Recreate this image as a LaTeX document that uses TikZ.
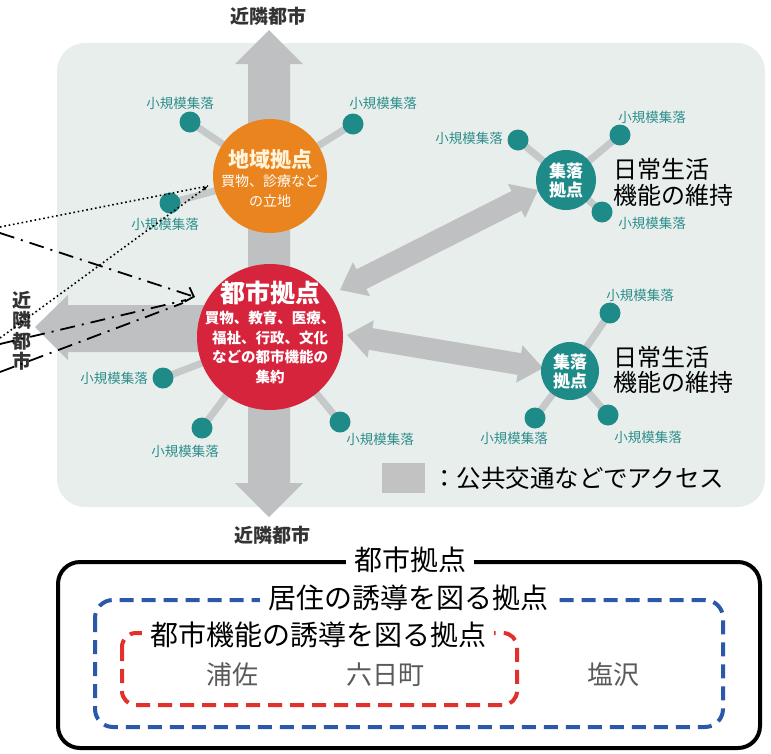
\documentclass[tikz,border=0pt]{standalone}
\usepackage{fontspec}
\setmainfont{Noto Sans CJK JP}
\usetikzlibrary{calc,arrows.meta}
\pgfdeclarelayer{bglayer}
\pgfdeclarelayer{midlayer}
\pgfsetlayers{bglayer,midlayer,main}
\definecolor{bgc}{HTML}{E8EEEC}
\definecolor{arrowc}{HTML}{BFC0C2}
\definecolor{spokec}{HTML}{C6C9CA}
\definecolor{tealc}{HTML}{1E8B88}
\definecolor{tealtext}{HTML}{2F8F8C}
\definecolor{orangec}{HTML}{EA841F}
\definecolor{redc}{HTML}{D6243C}
\definecolor{legendc}{HTML}{C2C2C2}
\definecolor{bluec}{HTML}{2B58A8}
\definecolor{reddc}{HTML}{E2302D}
\definecolor{namec}{HTML}{5A5A5A}
\definecolor{cityc}{HTML}{333333}
\definecolor{creamc}{HTML}{FFF4DC}
\newcommand\blockdbl[5]{%
 \fill[arrowc] (#1) -- ($(#1)!#3!(#2)!#5!90:(#2)$) -- ($(#1)!#3!(#2)!#4!90:(#2)$)
  -- ($(#2)!#3!(#1)!#4!-90:(#1)$) -- ($(#2)!#3!(#1)!#5!-90:(#1)$) -- (#2)
  -- ($(#2)!#3!(#1)!#5!90:(#1)$) -- ($(#2)!#3!(#1)!#4!90:(#1)$)
  -- ($(#1)!#3!(#2)!#4!-90:(#2)$) -- ($(#1)!#3!(#2)!#5!-90:(#2)$) -- cycle;}
\begin{document}
\begin{tikzpicture}[x=1pt,y=-1pt,
  every node/.style={inner sep=0pt},
  dot/.style={circle, fill=tealc, minimum size=21pt},
  spoke/.style={draw=spokec, line width=7pt},
  satlabel/.style={text=tealtext, font=\fontsize{13.5}{14}\selectfont},
  citylabel/.style={text=cityc, font=\fontsize{19}{20}\selectfont\bfseries},
  daily/.style={anchor=west, align=left, font=\fontsize{24}{25.5}\selectfont},
  hubtitle/.style={text=white, font=\fontsize{17}{20}\selectfont\bfseries, align=center},
  boxtitle/.style={fill=white, inner xsep=8pt, inner ysep=3pt, font=\fontsize{28}{30}\selectfont},
  placename/.style={text=namec, font=\fontsize{26}{28}\selectfont},
  dotline/.style={line width=1.6pt, dash pattern=on 1.6pt off 2.8pt},
  dashdotline/.style={line width=1.8pt, dash pattern=on 15pt off 7pt on 2pt off 7pt}]
\useasboundingbox (0,0) rectangle (771,753);

% ---------- background and access arrows ----------
\begin{pgfonlayer}{bglayer}
\fill[bgc, rounded corners=28pt] (57,43) rectangle (765,507);
\coordinate (vt) at (269,30);
\coordinate (vb) at (269,517);
\blockdbl{vt}{vb}{34pt}{21pt}{34pt}
\coordinate (lt) at (35,327);
\fill[arrowc] (lt) -- (68,295) -- (68,305) -- (269,305) -- (269,352) -- (68,352) -- (68,360) -- cycle;
\coordinate (d1a) at (340,290);
\coordinate (d1b) at (538,190);
\blockdbl{d1a}{d1b}{24pt}{11pt}{19pt}
\coordinate (d2a) at (347,335);
\coordinate (d2b) at (543,368);
\blockdbl{d2a}{d2b}{24pt}{11pt}{19pt}
\end{pgfonlayer}

% ---------- hubs ----------
\node[circle, fill=orangec, minimum size=114pt] (O) at (270,176) {};
\node[circle, fill=redc, minimum size=146pt] (R) at (270,337) {};
\node[circle, fill=tealc, minimum size=60pt] (S1) at (566,180) {};
\node[circle, fill=tealc, minimum size=58pt] (S2) at (570,371) {};

% ---------- small settlements ----------
\node[dot] (o1) at (190,122) {};
\node[dot] (o2) at (353,124) {};
\node[dot] (o3) at (170,203) {};
\node[dot] (r1) at (163,378) {};
\node[dot] (r2) at (202,428) {};
\node[dot] (r3) at (340,422) {};
\node[dot] (a1) at (518,140) {};
\node[dot] (a2) at (620,135) {};
\node[dot] (a3) at (602,212) {};
\node[dot] (b1) at (610,313) {};
\node[dot] (b2) at (535,418) {};
\node[dot] (b3) at (608,415) {};

\begin{pgfonlayer}{midlayer}
\draw[spoke] (O.center) -- (o1.center);
\draw[spoke] (O.center) -- (o2.center);
\draw[spoke] (O.center) -- (o3.center);
\draw[spoke] (R.center) -- (r1.center);
\draw[spoke] (R.center) -- (r2.center);
\draw[spoke] (R.center) -- (r3.center);
\draw[spoke] (S1.center) -- (a1.center);
\draw[spoke] (S1.center) -- (a2.center);
\draw[spoke] (S1.center) -- (a3.center);
\draw[spoke] (S2.center) -- (b1.center);
\draw[spoke] (S2.center) -- (b2.center);
\draw[spoke] (S2.center) -- (b3.center);
\end{pgfonlayer}

\node[satlabel] (lo1) at (180,103) {小規模集落};
\node[satlabel] (lo2) at (383,103) {小規模集落};
\node[satlabel] (lo3) at (165,224) {小規模集落};
\node[satlabel] (lr1) at (114,378) {小規模集落};
\node[satlabel] (lr2) at (185,451) {小規模集落};
\node[satlabel] (lr3) at (380,439) {小規模集落};
\node[satlabel] (la1) at (469,138) {小規模集落};
\node[satlabel] (la2) at (652,117) {小規模集落};
\node[satlabel] (la3) at (652,223) {小規模集落};
\node[satlabel] (lb1) at (640,295) {小規模集落};
\node[satlabel] (lb2) at (514,438) {小規模集落};
\node[satlabel] (lb3) at (648,437) {小規模集落};

% ---------- hub texts ----------
\node[text=creamc, font=\fontsize{21}{22}\selectfont\bfseries] (Ot) at (270,160) {地域拠点};
\node[text=white, font=\fontsize{14}{15}\selectfont] (Os1) at (270,181) {買物、診療など};
\node[text=white, font=\fontsize{14}{15}\selectfont] (Os2) at (270,201) {の立地};
\node[text=white, font=\fontsize{25}{26}\selectfont\bfseries] (Rt) at (270,293) {都市拠点};
\node[text=white, font=\fontsize{14.5}{15}\selectfont\bfseries] (Rs1) at (270,318) {買物、教育、医療、};
\node[text=white, font=\fontsize{14.5}{15}\selectfont\bfseries] (Rs2) at (270,338) {福祉、行政、文化};
\node[text=white, font=\fontsize{14.5}{15}\selectfont\bfseries] (Rs3) at (270,357) {などの都市機能の};
\node[text=white, font=\fontsize{14.5}{15}\selectfont\bfseries] (Rs4) at (270,377) {集約};
\node[hubtitle] (S1t) at (566,181) {集落\\[-1pt]拠点};
\node[hubtitle] (S2t) at (570,372) {集落\\[-1pt]拠点};
\node[daily] (D1) at (613,182.5) {日常生活\\機能の維持};
\node[daily] (D2) at (613,370) {日常生活\\機能の維持};

% ---------- neighbouring cities ----------
\node[citylabel] (Ntop) at (268,16) {近隣都市};
\node[citylabel] (Nbot) at (272,535) {近隣都市};
\node[citylabel, align=center, font=\fontsize{19}{20.5}\selectfont\bfseries] (Nleft) at (22,331) {近\\隣\\都\\市};

% ---------- legend ----------
\node[fill=legendc, minimum width=43pt, minimum height=30pt] (lg) at (403.5,478) {};
\node[anchor=west, font=\fontsize{24.5}{26}\selectfont] (lgt) at (432,478) {：公共交通などでアクセス};

% ---------- leader lines from the left ----------
\coordinate (pA) at (0,227);
\coordinate (pB) at (0,338);
\coordinate (pC) at (0,233);
\coordinate (pD) at (0,344);
\coordinate (pE) at (0,372);
\coordinate (qO) at (208,186);
\coordinate (qR) at (195,297);
\coordinate (qR2) at (186,300);
\coordinate (qR3) at (183,303);
\draw[dotline] (pA) -- (qO);
\draw[dotline, -{Latex[length=5pt,width=4pt]}] (pB) -- (qO);
\draw[dashdotline, -{Straight Barb[length=7pt,width=15pt]}] (pC) -- (qR);
\draw[dashdotline] (pD) -- (qR2);
\draw[dashdotline] (pE) -- (qR3);

% ---------- bottom classification box ----------
\draw[line width=4pt, rounded corners=22pt] (58,562) rectangle (760,748);
\node[boxtitle] (T1) at (410,560) {都市拠点};
\draw[draw=bluec, line width=4pt, dash pattern=on 14pt off 8pt, rounded corners=18pt] (95,600) rectangle (723,727);
\node[boxtitle] (T2) at (408,598) {居住の誘導を図る拠点};
\draw[draw=reddc, line width=4pt, dash pattern=on 14pt off 8pt, rounded corners=14pt] (122,633) rectangle (517,705);
\node[boxtitle] (T3) at (318,635) {都市機能の誘導を図る拠点};
\node[placename] (P1) at (232,675) {浦佐};
\node[placename] (P2) at (385,675) {六日町};
\node[placename] (P3) at (613,675) {塩沢};
\end{tikzpicture}
\end{document}
